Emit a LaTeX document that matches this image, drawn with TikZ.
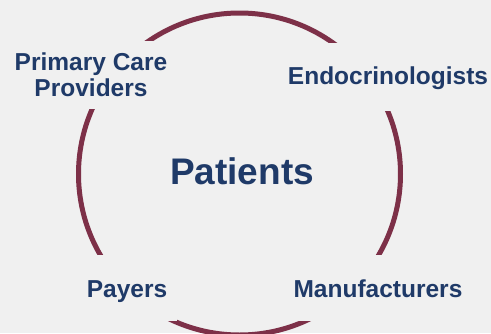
\documentclass[tikz,border=0pt]{standalone}
\usepackage{fontspec}
\setmainfont{Liberation Sans}
\definecolor{bgc}{HTML}{F0F0F0}
\definecolor{ringc}{HTML}{7D3048}
\definecolor{navyc}{HTML}{1F3A68}
\tikzset{
  ring/.style={draw=ringc, line width=5pt},
  lbl/.style={fill=bgc, text=navyc, font=\bfseries\fontsize{24.5}{26}\selectfont,
    align=center, inner xsep=4pt, inner ysep=0pt},
  hub/.style={text=navyc, font=\bfseries\fontsize{37}{40}\selectfont, inner sep=0pt}
}
\begin{document}
\begin{tikzpicture}[x=1pt,y=-1pt]
\fill[bgc] (0,0) rectangle (491,333);
\useasboundingbox (0,0) rectangle (491,333);
\begin{scope}
\clip (0,0) rectangle (491,333);
\draw[ring] (239.5,174) circle[radius=161];
\end{scope}
\node[lbl, minimum height=68pt, text height=17.5pt, text depth=3.5pt] (endo) at (388,77) {Endocrinologists};
\node[lbl, minimum height=68pt] (pcp) at (91,74.5) {Primary Care\\Providers};
\node[lbl, minimum height=66pt, minimum width=100pt, text height=20pt, text depth=2pt] (pay) at (127,288) {Payers};
\node[lbl, minimum height=66pt, text height=20pt, text depth=2pt] (man) at (378,288) {Manufacturers};
\node[hub, anchor=base] (pat) at (242,184) {Patients};
\end{tikzpicture}
\end{document}
